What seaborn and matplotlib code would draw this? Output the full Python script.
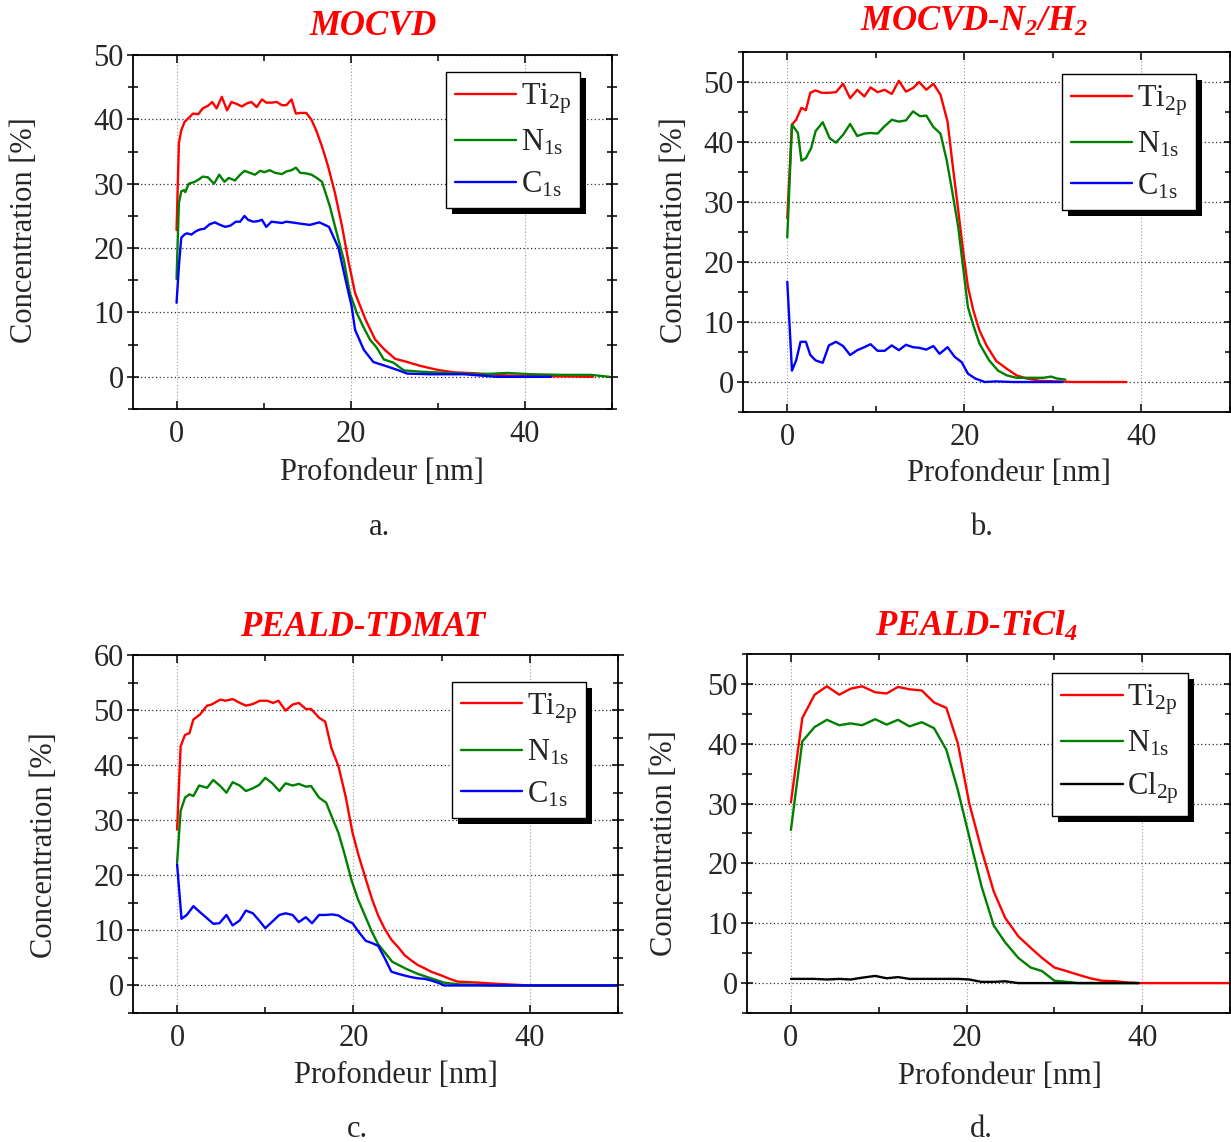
import numpy as np
import pandas as pd
import seaborn as sns
import matplotlib
matplotlib.use("Agg")
import matplotlib.pyplot as plt
from matplotlib.ticker import MultipleLocator
from matplotlib.patches import Rectangle

# ---- data (depth in nm, concentration in %) ----
a_ti_x = [0, 0.27, 0.54, 0.92, 1.9, 2.5, 3.0, 3.6, 4.1, 4.6, 5.2, 5.8, 6.3, 6.9, 7.5, 8.1, 8.6, 9.2, 9.8, 10.3,
          10.9, 11.5, 12.1, 12.6, 13.2, 13.7, 14.2, 14.9, 15.5, 16.0, 16.7, 17.4, 18.2, 19.0, 19.7, 20.5, 21.7,
          22.8, 23.9, 25.1, 26.5, 28.0, 29.9, 31.8, 34.9, 38.0, 42.6, 47.8]
a_ti_y = [22.8, 36.3, 38.3, 39.6, 40.9, 40.8, 41.7, 42.1, 42.7, 41.7, 43.5, 41.4, 42.7, 42.4, 42.0, 42.5, 42.7,
          41.9, 43.1, 42.6, 42.6, 42.7, 42.2, 42.2, 43.1, 40.9, 41.0, 41.0, 39.9, 38.4, 35.8, 32.7, 28.5, 23.4,
          18.2, 13.0, 8.9, 5.8, 4.2, 2.8, 2.3, 1.7, 1.1, 0.7, 0.5, 0.2, 0.1, 0.0]
a_n_x = [0, 0.27, 0.54, 0.84, 1.0, 1.4, 2.1, 2.6, 3.0, 3.6, 4.3, 4.9, 5.5, 6.0, 6.7, 7.3, 7.8, 8.4, 9.0, 9.6,
         10.1, 10.7, 11.3, 12.1, 12.6, 13.2, 13.7, 14.2, 14.9, 15.5, 16.1, 16.7, 17.6, 18.4, 19.2, 19.9, 20.7,
         21.4, 22.2, 23.0, 23.8, 24.9, 26.1, 28.0, 31.1, 34.9, 38.0, 40.7, 44.5, 47.6, 49.7]
a_n_y = [15.2, 27.0, 28.8, 29.0, 28.7, 30.0, 30.3, 30.7, 31.1, 31.0, 30.0, 31.4, 30.3, 30.9, 30.5, 31.4, 32.0,
         31.7, 31.4, 32.0, 31.8, 32.1, 31.7, 31.5, 31.9, 32.1, 32.5, 31.7, 31.6, 31.4, 30.9, 30.3, 26.5, 22.3,
         18.2, 13.0, 9.9, 7.9, 5.8, 4.5, 2.7, 2.2, 1.0, 0.8, 0.6, 0.4, 0.6, 0.4, 0.3, 0.3, 0.0]
a_c_x = [0, 0.27, 0.54, 0.9, 1.2, 1.7, 2.2, 2.7, 3.2, 3.8, 4.4, 5.0, 5.6, 6.2, 6.8, 7.3, 7.8, 8.2, 8.8, 9.4,
         9.8, 10.3, 10.9, 11.5, 12.1, 12.6, 13.2, 14.2, 15.3, 16.4, 17.5, 18.6, 19.4, 20.1, 20.5, 21.5, 22.6,
         24.2, 25.3, 26.5, 29.1, 33.0, 36.8, 43.0]
a_c_y = [11.5, 17.2, 21.6, 22.1, 22.3, 22.1, 22.6, 22.9, 23.0, 23.7, 24.0, 23.6, 23.3, 23.5, 24.1, 24.1, 25.0,
         24.4, 24.1, 24.2, 24.4, 23.3, 24.1, 24.0, 23.9, 24.1, 24.0, 23.8, 23.6, 24.0, 23.3, 20.0, 15.1, 11.0,
         7.3, 4.2, 2.3, 1.6, 1.1, 0.5, 0.4, 0.4, 0.0, 0.0]

b_ti_x = [0, 0.53, 1.0, 1.6, 2.1, 2.6, 3.2, 3.9, 4.7, 5.5, 6.3, 7.1, 7.9, 8.7, 9.4, 10.2, 11.0, 11.8, 12.6,
          13.4, 14.2, 14.9, 15.7, 16.5, 17.3, 18.1, 18.7, 19.3, 19.9, 20.4, 21.0, 21.7, 22.5, 23.6, 24.8, 25.9,
          27.0, 28.5, 32.3, 38.3]
b_ti_y = [27.3, 42.9, 43.7, 45.7, 45.3, 48.2, 48.6, 48.2, 48.2, 48.3, 49.7, 47.3, 48.7, 47.6, 49.1, 48.3, 48.7,
          48.0, 50.2, 48.4, 49.0, 50.0, 48.7, 49.7, 47.9, 43.4, 35.9, 28.7, 21.4, 15.9, 12.0, 8.6, 6.1, 3.5, 2.2,
          1.1, 0.6, 0.2, 0.0, 0.0]
b_n_x = [0, 0.53, 1.2, 1.6, 2.1, 2.7, 3.2, 4.0, 4.8, 5.5, 6.3, 7.1, 7.9, 8.7, 9.4, 10.2, 10.9, 11.8, 12.6,
         13.4, 14.2, 15.0, 15.7, 16.5, 17.3, 18.0, 18.6, 19.3, 19.8, 20.4, 21.0, 21.7, 22.8, 23.8, 24.8, 25.9,
         27.4, 28.9, 29.8, 30.4, 31.4]
b_n_y = [24.1, 42.9, 41.5, 36.9, 37.3, 39.0, 41.8, 43.3, 40.6, 39.9, 41.2, 43.0, 41.0, 41.4, 41.5, 41.4, 42.5,
         43.7, 43.4, 43.6, 45.1, 44.3, 44.4, 42.5, 41.4, 37.0, 32.0, 25.9, 19.8, 12.5, 9.5, 6.4, 3.6, 1.9, 1.1,
         0.7, 0.7, 0.7, 0.9, 0.6, 0.4]
b_c_x = [0, 0.53, 1.0, 1.5, 2.1, 2.6, 3.2, 4.0, 4.7, 5.5, 6.3, 7.1, 7.9, 8.7, 9.4, 10.2, 11.0, 11.8, 12.6,
         13.4, 14.2, 14.9, 15.7, 16.5, 17.2, 18.1, 18.9, 19.7, 20.4, 21.2, 22.3, 23.6, 25.5, 28.5, 31.1]
b_c_y = [16.7, 1.9, 3.6, 6.7, 6.7, 4.5, 3.6, 3.2, 6.1, 6.7, 6.0, 4.5, 5.3, 5.8, 6.3, 5.2, 5.2, 6.1, 5.3, 6.2,
         5.8, 5.7, 5.4, 6.0, 4.7, 5.8, 4.2, 3.3, 1.4, 0.6, 0.0, 0.1, 0.0, 0.0, 0.0]

c_ti_x = [0, 0.4, 0.9, 1.4, 1.85, 2.6, 3.4, 3.9, 4.9, 5.5, 6.3, 7.0, 7.8, 8.6, 9.4, 10.2, 10.9, 11.5, 12.3,
          13.1, 13.8, 14.6, 15.2, 16.1, 16.8, 17.5, 18.3, 19.1, 19.9, 20.6, 21.4, 22.1, 22.8, 23.5, 24.3, 25.1,
          25.8, 26.6, 27.3, 28.1, 28.8, 30.0, 30.9, 31.8, 34.3, 36.2, 40.0, 49.8]
c_ti_y = [28.3, 43.4, 45.5, 45.8, 48.3, 49.2, 50.8, 51.0, 51.9, 51.7, 52.0, 51.4, 50.8, 51.1, 51.7, 51.7, 51.3,
          51.7, 49.9, 51.0, 51.3, 50.2, 50.2, 48.6, 47.9, 43.1, 39.8, 34.4, 27.7, 23.5, 19.3, 15.7, 12.7, 10.4,
          8.3, 6.9, 5.5, 4.5, 3.7, 3.1, 2.5, 1.8, 1.2, 0.7, 0.5, 0.3, 0.0, 0.0]
c_n_x = [0, 0.4, 0.9, 1.4, 1.85, 2.5, 3.4, 4.1, 4.9, 5.6, 6.3, 7.1, 7.8, 8.6, 9.3, 10.0, 10.8, 11.6, 12.3,
         13.1, 13.8, 14.6, 15.2, 16.1, 16.9, 17.5, 18.3, 19.0, 19.8, 20.5, 21.3, 22.1, 22.8, 23.7, 24.4, 26.0,
         27.3, 28.8, 30.3, 32.0, 36.2, 50.0]
c_n_y = [22.3, 31.7, 34.1, 34.7, 34.4, 36.3, 35.9, 37.3, 36.2, 35.0, 36.9, 36.3, 35.3, 35.8, 36.4, 37.7, 36.7,
         35.3, 36.7, 36.3, 36.6, 36.1, 36.2, 34.1, 33.2, 30.8, 27.7, 23.8, 19.0, 15.7, 12.7, 9.7, 7.5, 5.7, 4.3,
         3.0, 2.1, 1.3, 0.5, 0.2, 0.0, 0.0]
c_c_x = [0, 0.5, 1.1, 1.85, 2.6, 3.4, 4.1, 4.8, 5.6, 6.3, 7.1, 7.8, 8.6, 9.3, 10.0, 10.8, 11.6, 12.3, 13.1,
         13.8, 14.6, 15.3, 16.1, 16.8, 17.6, 18.3, 19.1, 19.9, 20.6, 21.4, 22.1, 22.8, 23.5, 24.3, 25.1, 25.8,
         26.6, 27.3, 28.1, 28.8, 29.6, 30.3, 40.0, 50.0]
c_c_y = [22.0, 12.1, 12.8, 14.4, 13.3, 12.2, 11.2, 11.3, 12.8, 10.9, 11.8, 13.6, 13.1, 11.8, 10.4, 11.6, 12.8,
         13.1, 12.8, 11.5, 12.4, 11.3, 12.8, 12.8, 12.9, 12.7, 11.9, 11.3, 9.7, 8.1, 7.7, 7.2, 5.1, 2.5, 2.1,
         1.8, 1.5, 1.3, 1.2, 0.9, 0.5, 0.0, 0.0, 0.0]

d_ti_x = [0, 1.3, 2.7, 4.1, 5.5, 6.8, 8.1, 9.6, 10.9, 12.2, 13.5, 14.9, 16.3, 17.7, 19.0, 20.3, 21.7, 23.1,
          24.4, 25.9, 27.3, 28.6, 30.0, 31.4, 32.7, 34.1, 35.4, 37.0, 38.3, 39.6, 50.0]
d_ti_y = [30.2, 44.3, 48.2, 49.6, 48.2, 49.2, 49.6, 48.6, 48.4, 49.5, 49.1, 48.9, 46.9, 46.0, 40.1, 30.1, 22.3,
          15.3, 10.9, 7.8, 5.9, 4.2, 2.6, 2.0, 1.4, 0.8, 0.4, 0.3, 0.1, 0.0, 0.0]
d_n_x = [0, 1.3, 2.7, 4.1, 5.5, 6.8, 8.1, 9.6, 10.9, 12.2, 13.5, 14.9, 16.3, 17.7, 19.0, 20.3, 21.7, 23.1,
         24.4, 25.9, 27.3, 28.6, 30.0, 31.4, 32.7, 39.6]
d_n_y = [25.6, 40.4, 42.8, 44.0, 43.1, 43.4, 43.1, 44.1, 43.2, 44.0, 42.9, 43.6, 42.6, 39.0, 32.3, 24.5, 16.2,
         9.6, 6.8, 4.2, 2.6, 2.0, 0.4, 0.2, 0.0, 0.0]
d_cl_x = [0, 1.3, 2.7, 4.1, 5.5, 6.8, 8.1, 9.6, 10.9, 12.2, 13.5, 14.9, 16.3, 17.7, 19.0, 20.3, 21.7, 23.1,
          24.4, 25.9, 39.6]
d_cl_y = [0.7, 0.7, 0.7, 0.6, 0.7, 0.6, 0.9, 1.2, 0.8, 1.0, 0.7, 0.7, 0.7, 0.7, 0.7, 0.6, 0.2, 0.2, 0.3, 0.0, 0.0]

titles = ["MOCVD", r"MOCVD-N$_\mathbf{2}$/H$_\mathbf{2}$", "PEALD-TDMAT", r"PEALD-TiCl$_\mathbf{4}$"]
panel_tags = ["a.", "b.", "c.", "d."]
lbl_ti = r"Ti$_{\mathrm{2p}}$"
lbl_n = r"N$_{\mathrm{1s}}$"
lbl_c = r"C$_{\mathrm{1s}}$"
lbl_cl = r"Cl$_{\mathrm{2p}}$"
ymax = [50, 55, 60, 55]

panels = [
    [(lbl_ti, a_ti_x, a_ti_y), (lbl_n, a_n_x, a_n_y), (lbl_c, a_c_x, a_c_y)],
    [(lbl_ti, b_ti_x, b_ti_y), (lbl_n, b_n_x, b_n_y), (lbl_c, b_c_x, b_c_y)],
    [(lbl_ti, c_ti_x, c_ti_y), (lbl_n, c_n_x, c_n_y), (lbl_c, c_c_x, c_c_y)],
    [(lbl_ti, d_ti_x, d_ti_y), (lbl_n, d_n_x, d_n_y), (lbl_cl, d_cl_x, d_cl_y)],
]
colors = {lbl_ti: "#ff0000", lbl_n: "#008000", lbl_c: "#0000ff", lbl_cl: "#000000"}

# ---- style ----
sns.set_style("ticks")
plt.rcParams["font.family"] = ["Liberation Serif", "DejaVu Serif"]
plt.rcParams["mathtext.fontset"] = "custom"
plt.rcParams["mathtext.rm"] = "Liberation Serif"
plt.rcParams["mathtext.it"] = "Liberation Serif:italic"
plt.rcParams["mathtext.bf"] = "Liberation Serif:italic:bold"

W, H = 1231, 1142
fig = plt.figure(figsize=(W / 100, H / 100), dpi=100)


def fx(px):
    return px / W


def fy(py):
    return 1 - py / H


# axes boxes in pixels: left, top, right, bottom
boxes = [(133, 55, 612, 409), (743, 52, 1230, 412), (133, 655, 618, 1013), (747, 654, 1230, 1013)]
leg_anchor = [(0.933, 0.952), (0.930, 0.939), (0.934, 0.925), (0.913, 0.947)]
title_pos = [(373, 35), (974, 31), (363, 636), (976, 636)]
xlab_pos = [(382, 480), (1009, 481), (396, 1083), (1000, 1084)]
ylab_pos = [(25, 230), (675, 230), (45, 845), (665, 843)]
tag_pos = [(379, 535), (981, 535), (357, 1137), (981, 1137)]

FS = 22
axes = []
legends = []
for i, series in enumerate(panels):
    l, t, r, b = boxes[i]
    ax = fig.add_axes([fx(l), fy(b), (r - l) / W, (b - t) / H])
    frames = [pd.DataFrame({"depth": sx, "conc": sy, "el": name}) for name, sx, sy in series]
    df = pd.concat(frames, ignore_index=True)
    order = [s[0] for s in series]
    sns.lineplot(data=df, x="depth", y="conc", hue="el", hue_order=order, palette=colors,
                 estimator=None, sort=False, legend=False, lw=1.7, ax=ax)
    ax.set_xlim(-5, 50)
    ax.set_ylim(-5, ymax[i])
    ax.set_xlabel("")
    ax.set_ylabel("")
    ax.xaxis.set_major_locator(MultipleLocator(20))
    ax.xaxis.set_minor_locator(MultipleLocator(10))
    ax.yaxis.set_major_locator(MultipleLocator(10))
    ax.yaxis.set_minor_locator(MultipleLocator(5))
    ax.set_yticks(np.arange(0, ymax[i] + 1, 10))
    ax.grid(True, which="major", axis="x", ls=(0, (1, 2)), color="#999999", lw=0.8)
    ax.grid(True, which="major", axis="y", ls=(0, (1, 2)), color="#333333", lw=0.9)
    for sp in ax.spines.values():
        sp.set_linewidth(1.3)
        sp.set_color("black")
        sp.set_visible(True)
    ax.tick_params(which="both", direction="in", top=True, right=True, width=1.1, labelsize=FS, color="black")
    ax.tick_params(which="major", length=6)
    ax.tick_params(which="minor", length=4)
    ax.tick_params(axis="y", which="both", direction="inout", pad=2)
    ax.tick_params(axis="y", which="major", length=9)
    ax.tick_params(axis="y", which="minor", length=7)
    ax.tick_params(axis="x", pad=8)

    leg = ax.legend(ax.get_lines()[:3], order, loc="upper right", bbox_to_anchor=leg_anchor[i],
                    borderaxespad=0, fancybox=False, framealpha=1, edgecolor="black", fontsize=FS,
                    handlelength=2.0, handletextpad=0.15, labelspacing=0.4, borderpad=0.3)
    leg.get_frame().set_linewidth(1.0)
    leg.set_zorder(5)
    axes.append(ax)
    legends.append(leg)

    tx, ty = title_pos[i]
    fig.text(fx(tx), fy(ty), titles[i], color="#ff0000", fontsize=25, fontweight="bold",
             style="italic", ha="center", va="baseline")
    lx, ly = xlab_pos[i]
    fig.text(fx(lx), fy(ly), "Profondeur [nm]", fontsize=FS, ha="center", va="baseline")
    yx, yy = ylab_pos[i]
    fig.text(fx(yx), fy(yy), "Concentration [%]", fontsize=FS, rotation=90, ha="center", va="center")
    gx, gy = tag_pos[i]
    fig.text(fx(gx), fy(gy), panel_tags[i], fontsize=FS, ha="center", va="baseline")

# black drop shadow behind each legend box
fig.canvas.draw()
renderer = fig.canvas.get_renderer()
for ax, leg in zip(axes, legends):
    bb = leg.get_frame().get_window_extent(renderer)
    bb = bb.translated(6, -6).transformed(ax.transAxes.inverted())
    ax.add_patch(Rectangle((bb.x0, bb.y0), bb.width, bb.height, transform=ax.transAxes,
                           facecolor="black", edgecolor="none", zorder=4.9, clip_on=False))

fig.savefig("out.png", dpi=100)
